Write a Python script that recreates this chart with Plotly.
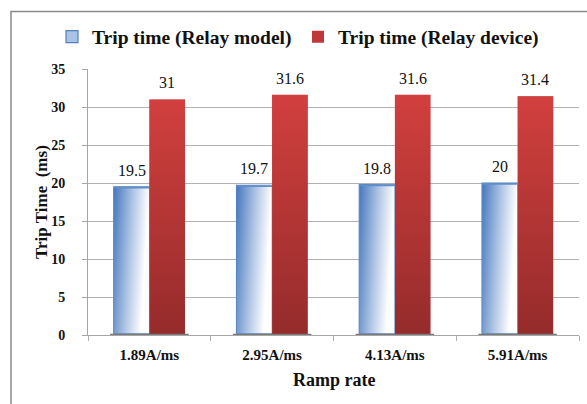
import base64
import plotly.graph_objects as go

# Chart data
ramp_rates = ["1.89A/ms", "2.95A/ms", "4.13A/ms", "5.91A/ms"]
trip_model = [19.5, 19.7, 19.8, 20]
trip_device = [31, 31.6, 31.6, 31.4]
y_ticks = [0, 5, 10, 15, 20, 25, 30, 35]

# Figure geometry (px)
W, H = 587, 404
L, R, T, B = 88, 8, 69, 69
PW, PH = W - L - R, H - T - B
BARGAP = 0.42
BAR_W = (1 - BARGAP) / 2

SERIF = "'Liberation Serif', 'Times New Roman', Times, serif"


def svg_uri(svg):
    return "data:image/svg+xml;base64," + base64.b64encode(svg.encode()).decode()


# Gradient fills laid over the bars
BLUE_FILL = svg_uri(
    '<svg xmlns="http://www.w3.org/2000/svg" width="100" height="100" viewBox="0 0 100 100" '
    'preserveAspectRatio="none"><defs><linearGradient id="g" x1="0" y1="0" x2="1" y2="0.25">'
    '<stop offset="0" stop-color="#4677bd"/><stop offset="0.55" stop-color="#b4c9e6"/>'
    '<stop offset="0.95" stop-color="#ffffff"/></linearGradient></defs>'
    '<rect x="0" y="0" width="100" height="100" fill="url(#g)" stroke="#5f8fcb" '
    'stroke-width="2.4" vector-effect="non-scaling-stroke"/></svg>'
)
RED_FILL = svg_uri(
    '<svg xmlns="http://www.w3.org/2000/svg" width="100" height="100" viewBox="0 0 100 100" '
    'preserveAspectRatio="none"><defs><linearGradient id="g" x1="0" y1="0" x2="0" y2="1">'
    '<stop offset="0" stop-color="#d1403e"/><stop offset="1" stop-color="#952b2b"/>'
    '</linearGradient></defs><rect x="0" y="0" width="100" height="100" fill="url(#g)"/></svg>'
)

fig = go.Figure()
fig.add_trace(go.Bar(
    name="Trip time (Relay model)", x=ramp_rates, y=trip_model,
    marker=dict(color="#aac3e4", line=dict(color="#4f81bd", width=1.2)),
))
fig.add_trace(go.Bar(
    name="Trip time (Relay device)", x=ramp_rates, y=trip_device,
    marker=dict(color="#c0393a", line=dict(width=0)),
))

images, annotations = [], []
for series, src, off in ((trip_model, BLUE_FILL, -BAR_W), (trip_device, RED_FILL, 0.0)):
    for i, v in enumerate(series):
        images.append(dict(
            source=src, xref="x", yref="y", x=i + off, y=v, sizex=BAR_W, sizey=v,
            xanchor="left", yanchor="top", sizing="stretch", layer="above",
        ))
        annotations.append(dict(
            x=i + off + BAR_W / 2, y=v, xref="x", yref="y", text=f"{v:g}",
            showarrow=False, yanchor="bottom", yshift=6,
            font=dict(family=SERIF, size=16, color="#111111"),
        ))

annotations.append(dict(
    text="<b>Ramp rate</b>", xref="paper", yref="paper", x=0.5, y=(H - B - 380) / PH,
    xanchor="center", yanchor="middle", showarrow=False,
    font=dict(family=SERIF, size=18, color="#111111"),
))
annotations.append(dict(
    text="<b>Trip Time  (ms)</b>", xref="paper", yref="paper", x=(41 - L) / PW, y=0.5,
    xanchor="center", yanchor="middle", showarrow=False, textangle=-90,
    font=dict(family=SERIF, size=17, color="#111111"),
))


def px_x(px):
    return (px - L) / PW


def px_y(py):
    return (H - B - py) / PH


shapes = [
    # outer chart frame
    dict(type="rect", xref="paper", yref="paper", x0=px_x(11), x1=px_x(640),
         y0=px_y(460), y1=px_y(11.5), line=dict(color="#8a8a8a", width=1.5),
         fillcolor="rgba(0,0,0,0)", layer="below"),
]
# darker floor segment under each bar group
for i in range(len(ramp_rates)):
    shapes.append(dict(
        type="line", xref="x", yref="y", x0=i - BAR_W - 0.03, x1=i + BAR_W + 0.03,
        y0=0, y1=0, line=dict(color="#7a7a7a", width=2.5), layer="above",
    ))

fig.update_layout(
    width=W, height=H,
    margin=dict(l=L, r=R, t=T, b=B, autoexpand=False),
    paper_bgcolor="white", plot_bgcolor="white",
    barmode="group", bargap=BARGAP, bargroupgap=0,
    font=dict(family=SERIF, color="#111111"),
    showlegend=True,
    legend=dict(
        orientation="h", x=px_x(52), xanchor="left", y=px_y(37), yanchor="middle",
        font=dict(family=SERIF, size=19.5, color="#111111", weight="bold"),
        itemwidth=30, tracegroupgap=0, bgcolor="rgba(0,0,0,0)",
        entrywidth=201, entrywidthmode="pixels",
    ),
    xaxis=dict(
        type="category", range=[-0.5, 3.5], showgrid=False,
        showline=True, linecolor="#a6a6a6", linewidth=1,
        ticks="outside", tickson="boundaries", ticklen=5, tickcolor="#b0b0b0",
        tickfont=dict(family=SERIF, size=15, color="#111111", weight="bold"),
        ticklabelstandoff=6,
    ),
    yaxis=dict(
        range=[0, 35], tickvals=y_ticks, showgrid=True, gridcolor="#b3b3b3", gridwidth=1,
        showline=True, linecolor="#a6a6a6", linewidth=1, zeroline=False,
        ticks="outside", ticklen=5, tickcolor="#a6a6a6",
        tickfont=dict(family=SERIF, size=14, color="#111111", weight="bold"),
        ticklabelstandoff=14,
    ),
    images=images, annotations=annotations, shapes=shapes,
)

fig.write_html("out.html", config={"displayModeBar": False})
